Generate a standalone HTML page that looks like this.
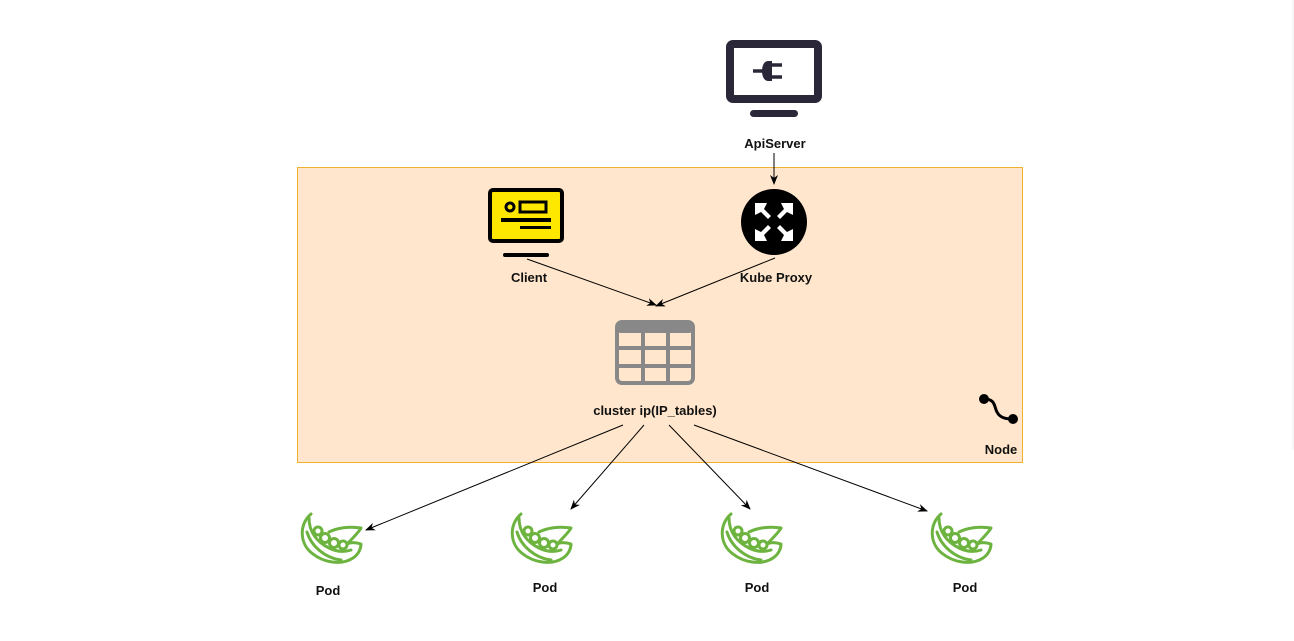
<!DOCTYPE html>
<html><head><meta charset="utf-8"><style>
html,body{margin:0;padding:0;background:#fff;}
svg{display:block;}
text{font-family:"Liberation Sans",sans-serif;font-weight:bold;font-size:13px;fill:#111;text-anchor:middle;}
</style></head><body>
<svg width="1294" height="641" viewBox="0 0 1294 641" xmlns="http://www.w3.org/2000/svg">
<defs>
<marker id="a" markerWidth="10" markerHeight="8" refX="9" refY="4" orient="auto" markerUnits="userSpaceOnUse">
<path d="M0,0 L10,4 L0,8 L3,4 Z" fill="#000"/>
</marker>
<g id="pod" fill="none" stroke="#6db33f" stroke-width="3" stroke-linecap="round" stroke-linejoin="round">
<path d="M10,0 C-2,10 -2,30 12,40 C22,48 40,52 52,44 C58,40 60,34 60,30 C54,28 50,28 46,30 C52,24 58,18 60,14 C48,12 36,14 28,18"/>
<path d="M8,4 C8,18 16,28 28,34 C36,38 44,38 50,36"/>
<path d="M6,18 C10,32 24,44 40,46"/>
<circle cx="17" cy="17" r="4"/><circle cx="24" cy="24" r="4.5"/><circle cx="33" cy="29" r="4.5"/><circle cx="42" cy="31" r="4"/>
</g>
</defs>
<line x1="1293" y1="0" x2="1293" y2="450" stroke="#eee" stroke-width="1"/>
<rect x="297.5" y="167.5" width="725" height="295" fill="#ffe6cc" stroke="#f0b030" stroke-width="1"/>

<!-- ApiServer -->
<rect x="730" y="44" width="88" height="55" rx="3" fill="none" stroke="#2a2838" stroke-width="8"/>
<rect x="750" y="110" width="48" height="7" rx="3.5" fill="#2a2838"/>
<path d="M753,71 H764" stroke="#2a2838" stroke-width="3.5"/>
<path d="M772,61 H768 C760,61 760,81 768,81 H772 Z" fill="#2a2838"/>
<path d="M772,65 H782 M772,77 H782" stroke="#2a2838" stroke-width="3.5"/>
<text x="775" y="148">ApiServer</text>
<line x1="774" y1="153" x2="774" y2="184" stroke="#000" marker-end="url(#a)"/>

<!-- Kube Proxy -->
<circle cx="774" cy="222" r="33" fill="#000"/>
<g fill="#fff" transform="translate(774,222)">
<g id="kp"><path d="M-19,-19 L-7,-19 L-10,-13 L-3,-6 L-6,-3 L-13,-10 L-19,-7 Z"/></g>
<use href="#kp" transform="rotate(90)"/>
<use href="#kp" transform="rotate(180)"/>
<use href="#kp" transform="rotate(270)"/>
</g>
<text x="776" y="282">Kube Proxy</text>

<!-- Client -->
<rect x="490" y="190" width="72" height="51" rx="3" fill="#ffe800" stroke="#000" stroke-width="4"/>
<rect x="503" y="253" width="46" height="4" rx="2" fill="#000"/>
<circle cx="510" cy="207" r="4" fill="none" stroke="#000" stroke-width="3"/>
<rect x="520" y="202" width="26" height="10" fill="none" stroke="#000" stroke-width="3"/>
<rect x="501" y="218" width="50" height="4" fill="#000"/>
<rect x="520" y="226" width="31" height="3" fill="#000"/>
<text x="529" y="282">Client</text>

<line x1="527" y1="259" x2="656" y2="305" stroke="#000" marker-end="url(#a)"/>
<line x1="775" y1="258" x2="656" y2="306" stroke="#000" marker-end="url(#a)"/>

<!-- table -->
<rect x="617" y="322" width="76" height="61" rx="5" fill="none" stroke="#888" stroke-width="4"/>
<rect x="617" y="322" width="76" height="11" rx="4" fill="#888"/>
<path d="M617,348 H693 M617,366 H693 M643,333 V383 M668,333 V383" stroke="#888" stroke-width="4"/>
<text x="655" y="415">cluster ip(IP_tables)</text>

<!-- Node icon -->
<circle cx="984" cy="399" r="5" fill="#000"/>
<circle cx="1013" cy="419" r="5" fill="#000"/>
<path d="M984,399 C996,399 994,407 997,412 C1000,418 1006,419 1013,419" fill="none" stroke="#000" stroke-width="3"/>
<text x="1001" y="454">Node</text>

<line x1="623" y1="425" x2="366" y2="530" stroke="#000" marker-end="url(#a)"/>
<line x1="644" y1="425" x2="571" y2="509" stroke="#000" marker-end="url(#a)"/>
<line x1="669" y1="425" x2="750" y2="509" stroke="#000" marker-end="url(#a)"/>
<line x1="694" y1="425" x2="927" y2="511" stroke="#000" marker-end="url(#a)"/>

<use href="#pod" x="301" y="514"/>
<use href="#pod" x="511" y="514"/>
<use href="#pod" x="721" y="514"/>
<use href="#pod" x="931" y="514"/>
<text x="328" y="595">Pod</text>
<text x="545" y="592">Pod</text>
<text x="757" y="592">Pod</text>
<text x="965" y="592">Pod</text>
</svg>
</body></html>
